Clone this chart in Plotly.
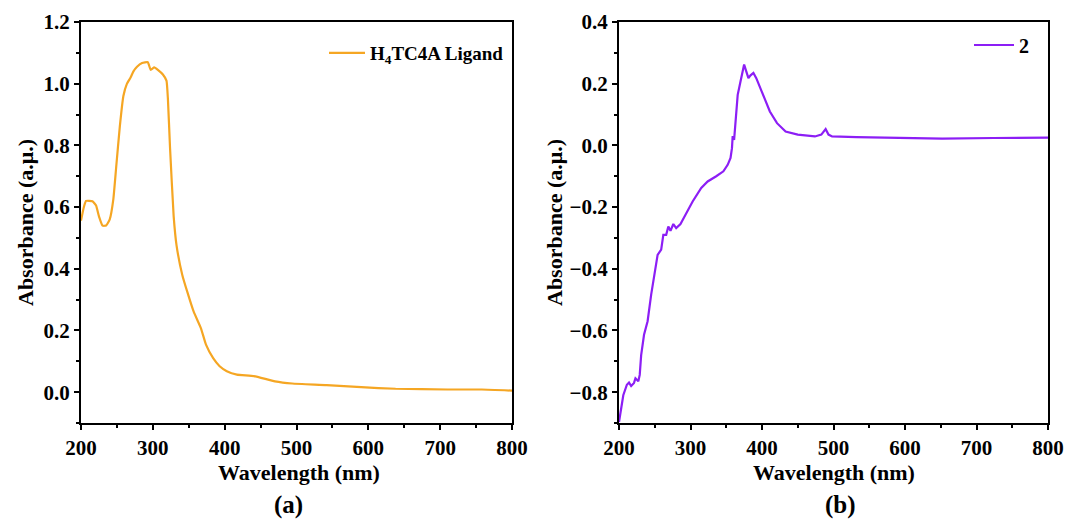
import plotly.graph_objects as go

# ---- Data ----
wl_a = [200, 204, 207, 216, 221, 225, 230, 235, 240, 245, 249, 254, 259, 264, 269, 273, 278, 285, 293,
        297, 302, 307, 314, 319, 321, 324, 329, 333, 341, 348, 357, 367, 374, 384, 393, 403, 417, 441,
        470, 494, 542, 590, 638, 710, 758, 800]
abs_a = [0.556, 0.60, 0.62, 0.619, 0.605, 0.57, 0.54, 0.54, 0.56, 0.625, 0.73, 0.86, 0.96, 1.0, 1.02,
         1.04, 1.055, 1.067, 1.07, 1.045, 1.053, 1.045, 1.03, 1.01, 0.95, 0.79, 0.57, 0.476, 0.38,
         0.325, 0.26, 0.207, 0.154, 0.11, 0.084, 0.068, 0.057, 0.052, 0.035, 0.028, 0.023, 0.016,
         0.011, 0.0086, 0.0086, 0.005]

wl_b = [200, 203, 206, 211, 214, 217, 221, 223, 227, 229, 231, 235, 240, 245, 251, 254, 259, 262, 266,
        269, 272, 276, 280, 286, 293, 303, 315, 324, 336, 346, 352, 356, 358, 359, 361, 363, 366, 370,
        375, 378, 381, 384, 388, 392, 401, 411, 421, 433, 450, 474, 483, 489, 493, 498, 532, 604, 652,
        724, 800]
abs_b = [-0.897, -0.852, -0.81, -0.776, -0.769, -0.78, -0.77, -0.755, -0.765, -0.744, -0.68, -0.614,
         -0.57, -0.484, -0.398, -0.355, -0.338, -0.29, -0.29, -0.263, -0.277, -0.255, -0.268, -0.255,
         -0.225, -0.182, -0.138, -0.117, -0.10, -0.084, -0.063, -0.041, -0.009, 0.03, 0.018, 0.078,
         0.164, 0.208, 0.262, 0.24, 0.218, 0.227, 0.235, 0.218, 0.164, 0.11, 0.072, 0.045, 0.035,
         0.029, 0.035, 0.053, 0.035, 0.029, 0.027, 0.024, 0.0216, 0.024, 0.025]

x_ticks = [200, 300, 400, 500, 600, 700, 800]
ya_ticks = [0.0, 0.2, 0.4, 0.6, 0.8, 1.0, 1.2]
yb_ticks = [-0.8, -0.6, -0.4, -0.2, 0.0, 0.2, 0.4]

name_a = "H<sub>4</sub>TC4A Ligand"
name_b = "2"
panel_labels = ["(a)", "(b)"]
x_title = "Wavelength (nm)"
y_title = "Absorbance (a.μ.)"

ORANGE = "#F5A623"
PURPLE = "#8C1EF5"
FONT = "Liberation Serif"

W, H = 1068, 522
def px(x):
    return x / W
def py(y):
    return 1 - y / H

fig = go.Figure()
fig.add_trace(go.Scatter(x=wl_a, y=abs_a, mode="lines", name="<b>" + name_a + "</b>",
                         line=dict(color=ORANGE, width=2.2, shape="spline", smoothing=0.4),
                         xaxis="x", yaxis="y", legend="legend"))
fig.add_trace(go.Scatter(x=wl_b, y=abs_b, mode="lines", name="<b>" + name_b + "</b>",
                         line=dict(color=PURPLE, width=2.2),
                         xaxis="x2", yaxis="y2", legend="legend2"))

tickfont = dict(family=FONT, size=21, color="black")

def xax(domain, anchor):
    return dict(domain=domain, anchor=anchor, range=[200, 800], tickvals=x_ticks,
                ticktext=["<b>%d</b>" % v for v in x_ticks],
                ticks="outside", ticklen=5, tickwidth=2, tickcolor="black",
                minor=dict(ticks="outside", ticklen=3, tickwidth=2, dtick=50, tickcolor="black"),
                showline=True, linewidth=2, linecolor="black", mirror=True,
                showgrid=False, zeroline=False, tickfont=tickfont, automargin=False)

def yax(domain, anchor, rng, vals):
    return dict(domain=domain, anchor=anchor, range=rng, tickvals=vals,
                ticktext=["<b>%s</b>" % ("%.1f" % v).replace("-", "\u2212") for v in vals],
                ticks="outside", ticklen=5, tickwidth=2, tickcolor="black",
                minor=dict(ticks="outside", ticklen=3, tickwidth=2, dtick=0.1, tickcolor="black"),
                showline=True, linewidth=2, linecolor="black", mirror=True,
                showgrid=False, zeroline=False, tickfont=tickfont, automargin=False)

ydom = [py(423), py(22)]
fig.update_layout(
    width=W, height=H,
    margin=dict(l=0, r=0, t=0, b=0),
    paper_bgcolor="white", plot_bgcolor="white",
    font=dict(family=FONT),
    xaxis=xax([px(81), px(512)], "y"),
    yaxis=yax(ydom, "x", [-0.1, 1.2], ya_ticks),
    xaxis2=xax([px(619), px(1048)], "y2"),
    yaxis2=yax(ydom, "x2", [-0.9, 0.4], yb_ticks),
    legend=dict(x=px(324), y=py(53), xanchor="left", yanchor="middle",
                bgcolor="rgba(0,0,0,0)", font=dict(family=FONT, size=19, color="black"),
                itemwidth=36),
    legend2=dict(x=px(969), y=py(45), xanchor="left", yanchor="middle",
                 bgcolor="rgba(0,0,0,0)", font=dict(family=FONT, size=20, color="black"),
                 itemwidth=40),
    showlegend=True,
)

afont = dict(family=FONT, size=22, color="black")
for xc in [(81 + 512) / 2 + 2, (619 + 1048) / 2]:
    fig.add_annotation(text="<b>" + x_title + "</b>", x=px(xc), y=py(472), xref="paper", yref="paper",
                       showarrow=False, xanchor="center", yanchor="middle", font=afont)
for xc in [25, 554]:
    fig.add_annotation(text="<b>" + y_title + "</b>", x=px(xc), y=py(223), xref="paper", yref="paper",
                       showarrow=False, xanchor="center", yanchor="middle", textangle=-90,
                       font=dict(family=FONT, size=22, color="black"))
for xc, lab in zip([288, 840], panel_labels):
    fig.add_annotation(text="<b>" + lab + "</b>", x=px(xc), y=py(505), xref="paper", yref="paper",
                       showarrow=False, xanchor="center", yanchor="middle",
                       font=dict(family=FONT, size=25, color="black"))

fig.write_html("out.html", config={"displayModeBar": False},
               post_script="document.body.style.margin='0';document.body.style.overflow='hidden';")
